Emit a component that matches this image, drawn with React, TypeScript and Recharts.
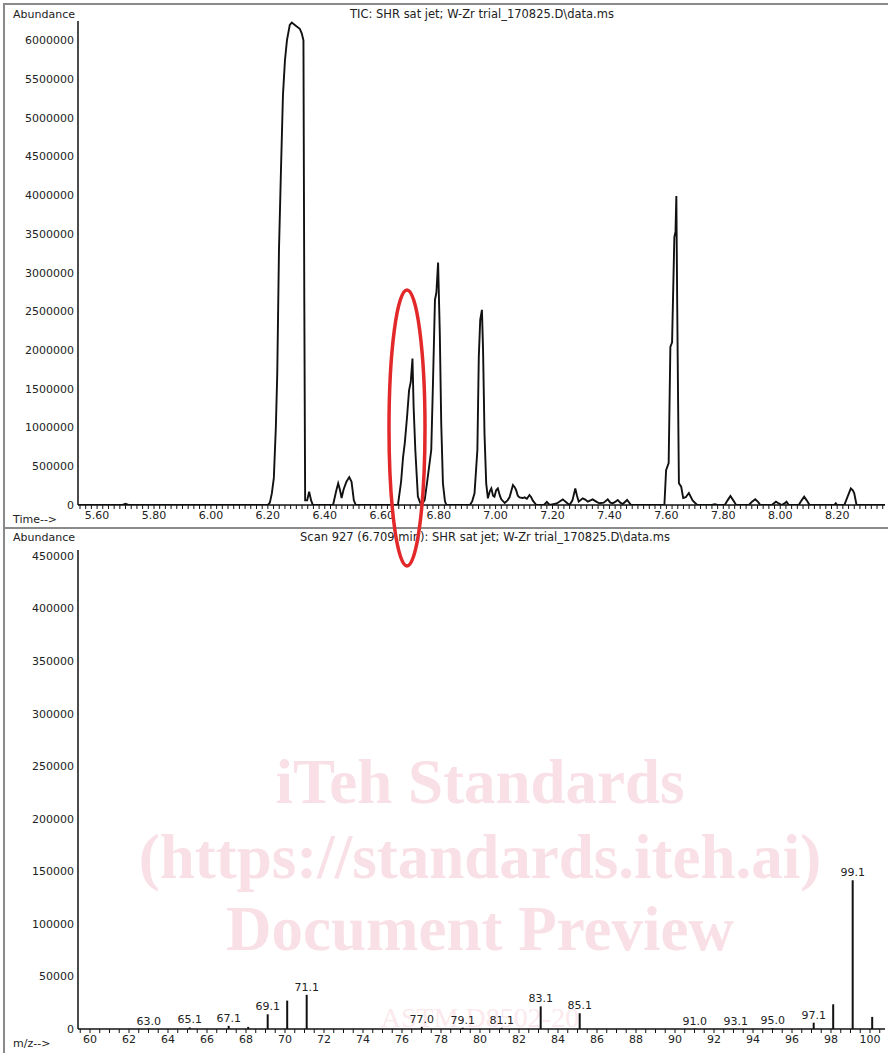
import { LineChart, Line, XAxis, YAxis, BarChart, Bar, LabelList } from 'recharts';

// TIC chromatogram (time in min, abundance)
const ticTime = [
  5.533, 5.69, 5.7, 5.71, 6.2, 6.207, 6.214, 6.221, 6.228, 6.233, 6.239, 6.246, 6.253, 6.26, 6.267,
  6.277, 6.284, 6.298, 6.312, 6.319, 6.325, 6.328, 6.331, 6.338, 6.345, 6.352, 6.358,
  6.429, 6.44, 6.447, 6.453, 6.459, 6.466, 6.476, 6.486, 6.494, 6.502, 6.509,
  6.657, 6.668, 6.675, 6.681, 6.689, 6.696, 6.702, 6.708, 6.712, 6.718, 6.727, 6.735, 6.745,
  6.751, 6.762, 6.774, 6.78, 6.787, 6.792, 6.798, 6.804, 6.809, 6.815, 6.822, 6.827,
  6.91, 6.918, 6.926, 6.936, 6.941, 6.946, 6.952, 6.956, 6.961, 6.967, 6.973, 6.98, 6.985, 6.991,
  6.996, 7.002, 7.008, 7.015, 7.02, 7.032, 7.042, 7.049, 7.061, 7.067, 7.072, 7.078, 7.084, 7.095,
  7.102, 7.11, 7.119, 7.125, 7.131, 7.143, 7.17, 7.18, 7.19, 7.215, 7.236, 7.25, 7.26, 7.27, 7.28,
  7.286, 7.292, 7.306, 7.315, 7.324, 7.341, 7.355, 7.365, 7.38, 7.394, 7.403, 7.412, 7.42, 7.429,
  7.438, 7.447, 7.462, 7.476,
  7.593, 7.599, 7.608, 7.614, 7.62, 7.628, 7.632, 7.635, 7.638, 7.641, 7.644, 7.652, 7.659, 7.668,
  7.679, 7.692, 7.708, 7.76, 7.77, 7.78, 7.805, 7.815, 7.825, 7.835, 7.845, 7.89, 7.9, 7.912, 7.922,
  7.93, 7.97, 7.985, 7.995, 8.005, 8.015, 8.022, 8.03, 8.065, 8.075, 8.084, 8.093, 8.103, 8.19, 8.195,
  8.2, 8.225, 8.238, 8.248, 8.255, 8.26, 8.268, 8.368,
];
const ticAbundance = [
  0, 0, 15000, 0, 0, 30000, 150000, 350000, 1000000, 1700000, 3290000, 4320000, 5290000, 5740000, 6000000,
  6200000, 6230000, 6190000, 6150000, 6090000, 6000000, 2650000, 60000, 60000, 170000, 60000, 0,
  0, 180000, 280000, 200000, 90000, 200000, 300000, 360000, 300000, 60000, 0,
  0, 300000, 620000, 800000, 1140000, 1480000, 1590000, 1890000, 1270000, 710000, 110000, 30000, 30000,
  65000, 365000, 710000, 1570000, 2650000, 2740000, 3130000, 2220000, 1060000, 280000, 50000, 0,
  0, 50000, 150000, 710000, 1910000, 2390000, 2520000, 2000000, 925000, 280000, 86000, 180000, 215000, 120000,
  107000, 190000, 215000, 120000, 73000, 26000, 60000, 100000, 258000, 230000, 194000, 120000, 99000, 90000,
  99000, 80000, 129000, 100000, 56000, 0, 0, 40000, 0, 20000, 73000, 30000, 0, 60000, 215000,
  120000, 43000, 86000, 70000, 43000, 73000, 40000, 22000, 30000, 73000, 30000, 22000, 40000, 65000,
  30000, 13000, 65000, 0,
  0, 450000, 540000, 2040000, 2100000, 3460000, 3530000, 3990000, 2600000, 1400000, 280000, 237000, 90000, 100000,
  155000, 60000, 0, 0, 10000, 0, 0, 60000, 116000, 60000, 0, 0, 40000, 73000, 40000,
  0, 0, 43000, 20000, 0, 20000, 43000, 0, 0, 60000, 107000, 60000, 0, 0, 22000,
  0, 0, 120000, 215000, 190000, 150000, 0, 0,
];

// mass spectrum at scan 927
const specMz = [63.0, 65.1, 67.1, 68.1, 69.1, 70.1, 71.1, 77.0, 79.1, 81.1, 83.1, 85.1, 91.0, 93.1, 95.0, 97.1, 98.1, 99.1, 100.1];
const specAbundance = [300, 1500, 3000, 2000, 14000, 27000, 32500, 2000, 1200, 1200, 21500, 15000, 300, 300, 800, 6000, 23500, 141500, 11500];
const specLabels = ['63.0', '65.1', '67.1', '', '69.1', '', '71.1', '77.0', '79.1', '81.1', '83.1', '85.1', '91.0', '93.1', '95.0', '97.1', '', '99.1', ''];

const ticYTicks = [0, 500000, 1000000, 1500000, 2000000, 2500000, 3000000, 3500000, 4000000, 4500000, 5000000, 5500000, 6000000];
const specYTicks = [0, 50000, 100000, 150000, 200000, 250000, 300000, 350000, 400000, 450000];

const timeTicks = Array.from({ length: 142 }, (_, i) => +(5.54 + i * 0.02).toFixed(2));
const mzTicks = Array.from({ length: 83 }, (_, i) => 59.5 + i * 0.5);

const tic = ticTime.map((t, i) => ({ t, v: ticAbundance[i] }));
const spectrum = specMz.map((mz, i) => ({ mz, ab: specAbundance[i], label: specLabels[i] }));

const FONT = '"DejaVu Sans", Verdana, sans-serif';
const tickStyle = { fill: '#222', fontSize: 11, fontFamily: FONT };

const txt = (left: number, top: number, s: string, extra: any = {}) => (
  <div
    style={{
      position: 'absolute', left, top, fontFamily: FONT, fontSize: 11, lineHeight: '13px',
      color: '#222', whiteSpace: 'nowrap', ...extra,
    }}
  >
    {s}
  </div>
);

const mark = (top: number, s: string, size: number, color: string, bold = true) => (
  <div
    style={{
      position: 'absolute', left: 480, top, transform: 'translateX(-50%)', whiteSpace: 'nowrap',
      fontFamily: '"Liberation Serif", serif', fontWeight: bold ? 700 : 400, fontSize: size,
      lineHeight: `${size}px`, color,
    }}
  >
    {s}
  </div>
);

export default function App() {
  return (
    <div style={{ position: 'absolute', left: 0, top: 0, width: 888, height: 1053, background: '#fff', overflow: 'hidden' }}>
      {/* watermark */}
      {mark(751, 'iTeh Standards', 63, '#f8e0e6')}
      {mark(826, '(https://standards.iteh.ai)', 63, '#f8e0e6')}
      {mark(898, 'Document Preview', 63, '#f8e0e6')}
      {mark(1004, 'ASTM D8502-20', 28, '#fbe9ed', false)}

      <div style={{ position: 'absolute', left: 0, top: 0 }}>
        <LineChart width={888} height={528} data={tic} margin={{ top: 21, right: 3, left: 8, bottom: 3 }}>
          <XAxis
            type="number" dataKey="t" domain={[5.533, 8.368]} allowDataOverflow ticks={timeTicks}
            interval={0} height={20} tickSize={4} tick={tickStyle}
            stroke="#111" axisLine={{ stroke: '#111', strokeWidth: 1.5 }} tickLine={{ stroke: '#111' }}
            tickFormatter={(v: number) => (Math.round(v * 100) % 20 === 0 ? v.toFixed(2) : '')}
          />
          <YAxis
            type="number" domain={[0, 6250000]} allowDataOverflow ticks={ticYTicks} interval={0}
            width={70} tickLine={false} tickSize={0} tickMargin={4} tick={tickStyle}
            axisLine={{ stroke: '#111', strokeWidth: 1.5 }}
          />
          <Line type="linear" dataKey="v" stroke="#111" strokeWidth={1.9} dot={false} isAnimationActive={false} />
        </LineChart>
      </div>

      <div style={{ position: 'absolute', left: 0, top: 528 }}>
        <BarChart width={888} height={525} data={spectrum} margin={{ top: 22, right: 3, left: 8, bottom: 3 }}>
          <XAxis
            type="number" dataKey="mz" domain={[59.385, 100.77]} allowDataOverflow ticks={mzTicks}
            interval={0} height={21} tickSize={4} tick={tickStyle}
            axisLine={{ stroke: '#111', strokeWidth: 1.5 }} tickLine={{ stroke: '#111' }}
            tickFormatter={(v: number) => (v % 2 === 0 ? String(v) : '')}
          />
          <YAxis
            type="number" domain={[0, 455700]} allowDataOverflow ticks={specYTicks} interval={0}
            width={70} tickLine={false} tickSize={0} tickMargin={4} tick={tickStyle}
            axisLine={{ stroke: '#111', strokeWidth: 1.5 }}
          />
          <Bar dataKey="ab" barSize={2} fill="#111" isAnimationActive={false}>
            <LabelList dataKey="label" position="top" offset={4} style={{ fill: '#222', fontSize: 11, fontFamily: FONT }} />
          </Bar>
        </BarChart>
      </div>

      {/* frame */}
      <div style={{ position: 'absolute', left: 3, top: 3, width: 885, height: 2, background: '#8a8a8a' }} />
      <div style={{ position: 'absolute', left: 3, top: 3, width: 2, height: 1050, background: '#8a8a8a' }} />
      <div style={{ position: 'absolute', left: 3, top: 527, width: 885, height: 2, background: '#8a8a8a' }} />

      {txt(13, 8, 'Abundance')}
      {txt(482, 8, 'TIC: SHR sat jet; W-Zr trial_170825.D\\data.ms', { transform: 'translateX(-50%)', fontSize: 11.5 })}
      {txt(13, 513, 'Time-->')}
      {txt(13, 531, 'Abundance')}
      {txt(485, 531, 'Scan 927 (6.709 min): SHR sat jet; W-Zr trial_170825.D\\data.ms', { transform: 'translateX(-50%)', fontSize: 11.5 })}
      {txt(13, 1037, 'm/z-->')}

      {/* red highlight ellipse */}
      <svg width={888} height={1053} style={{ position: 'absolute', left: 0, top: 0, pointerEvents: 'none' }}>
        <ellipse cx={407} cy={428} rx={18} ry={138} fill="none" stroke="#e3282a" strokeWidth={3.5} />
      </svg>
    </div>
  );
}
